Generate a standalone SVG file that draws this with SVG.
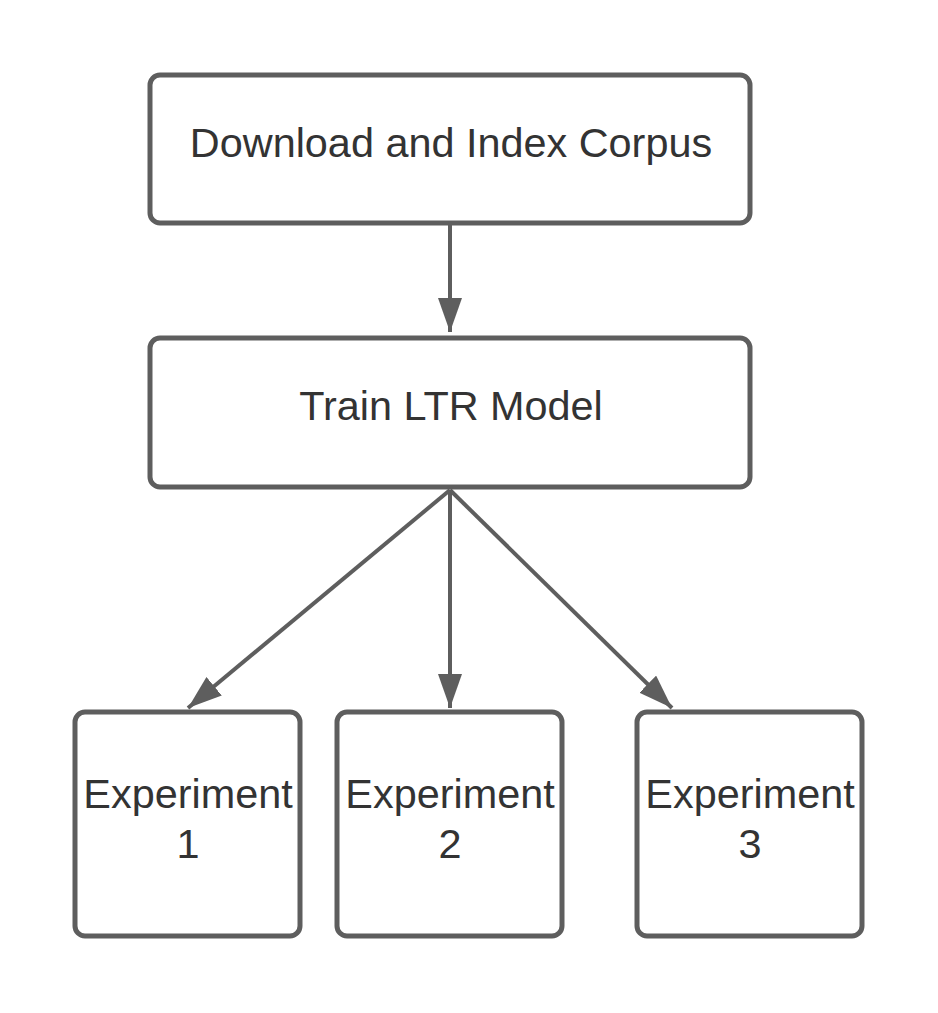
<svg xmlns="http://www.w3.org/2000/svg" width="938" height="1013" viewBox="0 0 938 1013">
<style>
.box{fill:#fff;stroke:#5e5e5e;stroke-width:5}
.lbl{font-family:"Liberation Sans",Arial,sans-serif;font-size:41.4px;fill:#333;text-anchor:middle}
.edge{stroke:#5e5e5e;stroke-width:4;fill:none}
</style>
<defs>
<marker id="a" markerUnits="userSpaceOnUse" viewBox="0 0 34 24" refX="34" refY="12" markerWidth="34" markerHeight="24" orient="auto">
<path d="M0,0 L34,12 L0,24 Z" fill="#5e5e5e"/>
</marker>
</defs>
<rect width="938" height="1013" fill="#fff"/>
<g id="edges">
<line class="edge" x1="450" y1="225" x2="450" y2="332" marker-end="url(#a)"/>
<line class="edge" x1="450" y1="490" x2="188" y2="708" marker-end="url(#a)"/>
<line class="edge" x1="450" y1="490" x2="450" y2="708" marker-end="url(#a)"/>
<line class="edge" x1="450" y1="490" x2="672" y2="708" marker-end="url(#a)"/>
</g>
<g id="n1"><rect class="box" x="150" y="75" width="600" height="148" rx="10"/><text class="lbl" x="451" y="157">Download and Index Corpus</text></g>
<g id="n2"><rect class="box" x="150" y="338" width="600" height="149" rx="10"/><text class="lbl" x="451" y="420">Train LTR Model</text></g>
<g id="e1"><rect class="box" x="75" y="712" width="225" height="224" rx="10"/><text class="lbl" x="188" y="808">Experiment</text><text class="lbl" x="188" y="858">1</text></g>
<g id="e2"><rect class="box" x="337" y="712" width="225" height="224" rx="10"/><text class="lbl" x="450" y="808">Experiment</text><text class="lbl" x="450" y="858">2</text></g>
<g id="e3"><rect class="box" x="637" y="712" width="225" height="224" rx="10"/><text class="lbl" x="750" y="808">Experiment</text><text class="lbl" x="750" y="858">3</text></g>
</svg>
